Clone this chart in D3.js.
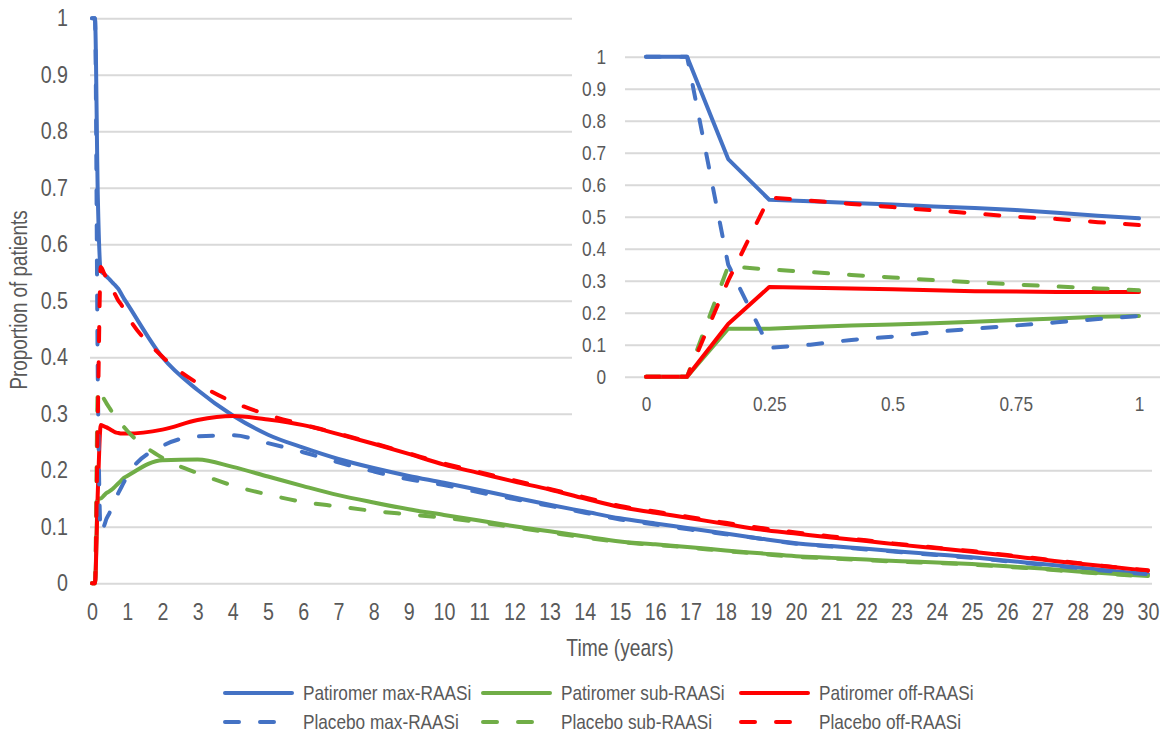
<!DOCTYPE html>
<html>
<head>
<meta charset="utf-8">
<title>Proportion of patients</title>
<script src="https://cdn.jsdelivr.net/npm/d3@7/dist/d3.min.js"></script>
<style>
  body { margin: 0; background: #fff; }
  text { font-family: "Liberation Sans", Arial, sans-serif; fill: #595959; }
</style>
</head>
<body>
<svg width="1168" height="735" id="mainsvg"></svg>
<script>
  // time points (years): monthly for the first year, then yearly
  const years = [0, 0.0833, 0.1667, 0.25, 0.3333, 0.4167, 0.5, 0.5833, 0.6667, 0.75, 0.8333, 0.9167, 1,
    2, 3, 4, 5, 6, 7, 8, 9, 10, 11, 12, 13, 14, 15, 16, 17, 18, 19, 20,
    21, 22, 23, 24, 25, 26, 27, 28, 29, 30];

  const patiromerMax = [1, 1, 0.68, 0.553, 0.548, 0.543, 0.538, 0.532, 0.527, 0.521, 0.512, 0.503, 0.495,
    0.40, 0.342, 0.297, 0.263, 0.240, 0.220, 0.204, 0.190, 0.178, 0.165, 0.152, 0.139, 0.127, 0.115,
    0.106, 0.097, 0.088, 0.079, 0.071, 0.066, 0.061, 0.056, 0.051, 0.046, 0.040, 0.034, 0.028, 0.022, 0.016];
  const patiromerSub = [0, 0, 0.15, 0.15, 0.155, 0.16, 0.163, 0.167, 0.172, 0.177, 0.182, 0.187, 0.19,
    0.218, 0.219, 0.206, 0.189, 0.172, 0.156, 0.143, 0.131, 0.121, 0.111, 0.101, 0.092, 0.083, 0.074,
    0.069, 0.064, 0.058, 0.053, 0.048, 0.045, 0.042, 0.039, 0.037, 0.034, 0.030, 0.026, 0.021, 0.017, 0.013];
  const patiromerOff = [0, 0, 0.165, 0.28, 0.278, 0.276, 0.273, 0.27, 0.267, 0.266, 0.265, 0.265, 0.265,
    0.272, 0.289, 0.296, 0.290, 0.280, 0.264, 0.247, 0.229, 0.210, 0.195, 0.180, 0.166, 0.150, 0.135,
    0.125, 0.115, 0.105, 0.095, 0.088, 0.081, 0.075, 0.068, 0.062, 0.056, 0.049, 0.042, 0.035, 0.029, 0.022];
  const placeboMax = [1, 1, 0.35, 0.09, 0.10, 0.115, 0.125, 0.14, 0.15, 0.16, 0.17, 0.18, 0.19,
    0.243, 0.260, 0.262, 0.248, 0.232, 0.214, 0.198, 0.184, 0.174, 0.161, 0.149, 0.137, 0.125, 0.113,
    0.104, 0.095, 0.087, 0.079, 0.070, 0.065, 0.060, 0.055, 0.050, 0.045, 0.039, 0.033, 0.027, 0.021, 0.016];
  const placeboSub = [0, 0, 0.345, 0.335, 0.327, 0.318, 0.31, 0.302, 0.295, 0.288, 0.282, 0.276, 0.27,
    0.222, 0.195, 0.173, 0.157, 0.144, 0.136, 0.128, 0.122, 0.116, 0.108, 0.099, 0.090, 0.081, 0.073,
    0.068, 0.063, 0.057, 0.052, 0.047, 0.044, 0.041, 0.038, 0.036, 0.033, 0.029, 0.025, 0.020, 0.016, 0.012];
  const placeboOff = [0, 0, 0.30, 0.56, 0.55, 0.54, 0.53, 0.52, 0.51, 0.50, 0.493, 0.483, 0.474,
    0.401, 0.354, 0.321, 0.298, 0.281, 0.265, 0.248, 0.230, 0.212, 0.197, 0.182, 0.167, 0.152, 0.137,
    0.127, 0.117, 0.107, 0.098, 0.090, 0.083, 0.076, 0.069, 0.063, 0.057, 0.050, 0.043, 0.036, 0.029, 0.023];

  const seriesNames = ['Patiromer max-RAASi', 'Patiromer sub-RAASi', 'Patiromer off-RAASi',
    'Placebo max-RAASi', 'Placebo sub-RAASi', 'Placebo off-RAASi'];
  const seriesValues = [patiromerMax, patiromerSub, patiromerOff, placeboMax, placeboSub, placeboOff];

  const mainYTicks = [0, 0.1, 0.2, 0.3, 0.4, 0.5, 0.6, 0.7, 0.8, 0.9, 1];
  const mainXTicks = [0, 1, 2, 3, 4, 5, 6, 7, 8, 9, 10, 11, 12, 13, 14, 15, 16, 17, 18, 19, 20,
    21, 22, 23, 24, 25, 26, 27, 28, 29, 30];
  const insetXTicks = [0, 0.25, 0.5, 0.75, 1];

  const colors = ['#4472C4', '#70AD47', '#FF0000', '#4472C4', '#70AD47', '#FF0000'];
  const dashed = [false, false, false, true, true, true];

  const svg = d3.select('#mainsvg');
  const series = seriesNames.map((name, i) => ({
    name: name,
    color: colors[i],
    dashed: dashed[i],
    points: years.map((t, j) => ({ t: t, v: seriesValues[i][j] }))
  }));

  const styleLine = (sel) => sel
    .attr('fill', 'none')
    .attr('stroke', d => d.color)
    .attr('stroke-width', 4)
    .attr('stroke-linecap', 'round')
    .attr('stroke-linejoin', 'round')
    .attr('stroke-dasharray', d => d.dashed ? '14,21' : null);

  // the original uses a narrow typeface; squeeze Liberation Sans horizontally
  const K = 0.82;
  const narrow = (sel) => sel.each(function () {
    const t = d3.select(this);
    const x = +t.attr('x') || 0;
    const pre = t.attr('data-pre') || '';
    t.attr('x', x / K).attr('transform', `${pre} scale(${K},1)`);
  });

  // ---- main chart ----
  const xScale = d3.scaleLinear().domain([0, 30]).range([92, 1148]);
  const yScale = d3.scaleLinear().domain([0, 1]).range([583.3, 18.3]);

  const yAxisG = svg.append('g')
    .attr('transform', 'translate(90,0)')
    .call(d3.axisLeft(yScale).tickValues(mainYTicks).tickFormat(d => String(d))
      .tickSize(-1062).tickPadding(22));
  yAxisG.select('.domain').remove();
  yAxisG.selectAll('.tick line').attr('stroke', '#d9d9d9').attr('stroke-width', 2);
  yAxisG.selectAll('.tick text').attr('font-size', 24).attr('fill', '#595959').call(narrow);

  const xAxisG = svg.append('g')
    .attr('transform', 'translate(0,583.3)')
    .call(d3.axisBottom(xScale).tickValues(mainXTicks).tickSize(0).tickPadding(20));
  xAxisG.select('.domain').remove();
  xAxisG.selectAll('.tick text').attr('font-size', 24).attr('fill', '#595959').call(narrow);

  svg.append('text')
    .attr('data-pre', 'translate(27,300) rotate(-90)')
    .attr('text-anchor', 'middle')
    .attr('font-size', 23)
    .text('Proportion of patients')
    .call(narrow);

  svg.append('text')
    .attr('data-pre', 'translate(620,656)')
    .attr('text-anchor', 'middle')
    .attr('font-size', 23.5)
    .text('Time (years)')
    .call(narrow);

  const mainLine = d3.line()
    .x(d => xScale(d.t))
    .y(d => yScale(d.v))
    .curve(d3.curveMonotoneX);

  svg.append('g').selectAll('path')
    .data(series)
    .enter()
    .append('path')
    .attr('d', d => mainLine(d.points))
    .call(styleLine);

  // ---- inset: first year ----
  const inset = svg.append('g');
  inset.append('rect')
    .attr('x', 572).attr('y', 0)
    .attr('width', 596).attr('height', 426)
    .attr('fill', '#fff');

  const ixScale = d3.scaleLinear().domain([0, 1]).range([646, 1139]);
  const iyScale = d3.scaleLinear().domain([0, 1]).range([376.7, 56.7]);

  const iyAxisG = inset.append('g')
    .attr('transform', 'translate(625,0)')
    .call(d3.axisLeft(iyScale).tickValues(mainYTicks).tickFormat(d => String(d))
      .tickSize(-535).tickPadding(19));
  iyAxisG.select('.domain').remove();
  iyAxisG.selectAll('.tick line').attr('stroke', '#d9d9d9').attr('stroke-width', 2);
  iyAxisG.selectAll('.tick text').attr('font-size', 21).attr('fill', '#595959').call(narrow);

  const ixAxisG = inset.append('g')
    .attr('transform', 'translate(0,376.7)')
    .call(d3.axisBottom(ixScale).tickValues(insetXTicks).tickFormat(d => String(d))
      .tickSize(0).tickPadding(19));
  ixAxisG.select('.domain').remove();
  ixAxisG.selectAll('.tick text').attr('font-size', 21).attr('fill', '#595959').call(narrow);

  const insetLine = d3.line()
    .x(d => ixScale(d.t))
    .y(d => iyScale(d.v));

  inset.append('g').selectAll('path')
    .data(series)
    .enter()
    .append('path')
    .attr('d', d => insetLine(d.points.filter(p => p.t <= 1)))
    .call(styleLine);

  // ---- legend ----
  const legend = svg.append('g');
  const item = legend.selectAll('g')
    .data(series)
    .enter()
    .append('g')
    .attr('transform', (d, i) => `translate(${225 + (i % 3) * 258},${i < 3 ? 693 : 722})`);

  item.append('line')
    .attr('x1', 0).attr('x2', 67)
    .attr('y1', 0).attr('y2', 0)
    .call(styleLine);

  item.append('text')
    .attr('x', 78).attr('y', 0)
    .attr('dy', '0.35em')
    .attr('font-size', 21)
    .text(d => d.name)
    .call(narrow);
</script>
</body>
</html>
